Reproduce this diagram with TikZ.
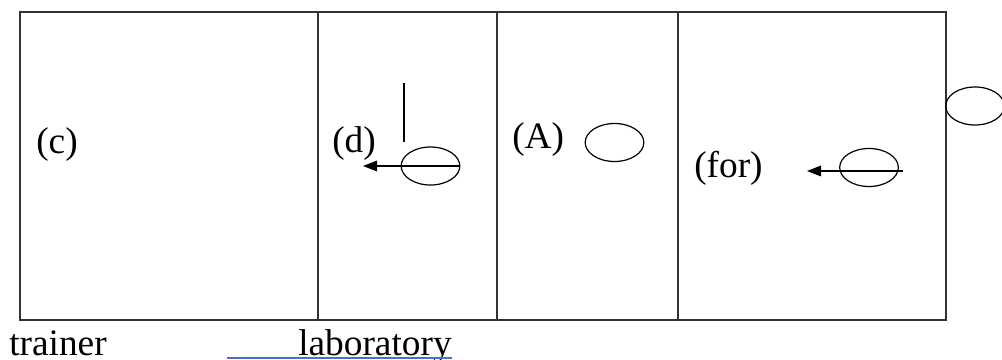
\documentclass[tikz,border=0pt]{standalone}
\usepackage{fontspec}
\setmainfont{Liberation Serif}
\usetikzlibrary{shapes.geometric,arrows.meta}
\definecolor{linkblue}{HTML}{4472C4}
\definecolor{frame}{HTML}{333333}
\begin{document}
\begin{tikzpicture}[x=0.75pt,y=-0.75pt,
  lbl/.style={anchor=base west,inner sep=0pt,font=\fontsize{28}{33}\selectfont},
  oval/.style={ellipse,draw=black,line width=0.9pt,inner sep=0pt,minimum width=44pt,minimum height=28.5pt},
  wall/.style={draw=frame,line width=1.4pt},
  arr/.style={draw=black,line width=0.8pt,-{Triangle[length=10.5pt,width=8pt]}}]
\useasboundingbox (0,0) rectangle (1002,360);
% frame and dividers
\draw[wall] (20,12) rectangle (946,320);
\draw[wall] (318,12) -- (318,320);
\draw[wall] (497,12) -- (497,320);
\draw[wall] (678,12) -- (678,320);
% labels
\node[lbl] (c) at (36,153) {(c)};
\node[lbl] (d) at (332,152) {(d)};
\node[lbl] (A) at (512,148) {(A)};
\node[lbl] (for) at (694,177) {(for)};
% ovals
\node[oval] (od) at (430.5,166) {};
\node[oval] (oA) at (614.5,142.5) {};
\node[oval] (ofor) at (869,167.5) {};
\node[oval] (oright) at (975,106) {};
% arrows and marks
\coordinate (dtip) at (363,166);
\draw[arr] (od.east) -- (dtip);
\coordinate (fstart) at (903,171);
\coordinate (ftip) at (807,171);
\draw[arr] (fstart) -- (ftip);
\coordinate (vt) at (404,83);
\coordinate (vb) at (404,142);
\draw[line width=0.9pt] (vt) -- (vb);
% bottom texts
\node[lbl] (trainer) at (9,355) {trainer};
\node[lbl] (lab) at (298,355) {laboratory};
\coordinate (ul) at (227,358);
\coordinate (ur) at (452,358);
\draw[linkblue,line width=0.9pt] (ul) -- (ur);
\end{tikzpicture}
\end{document}
